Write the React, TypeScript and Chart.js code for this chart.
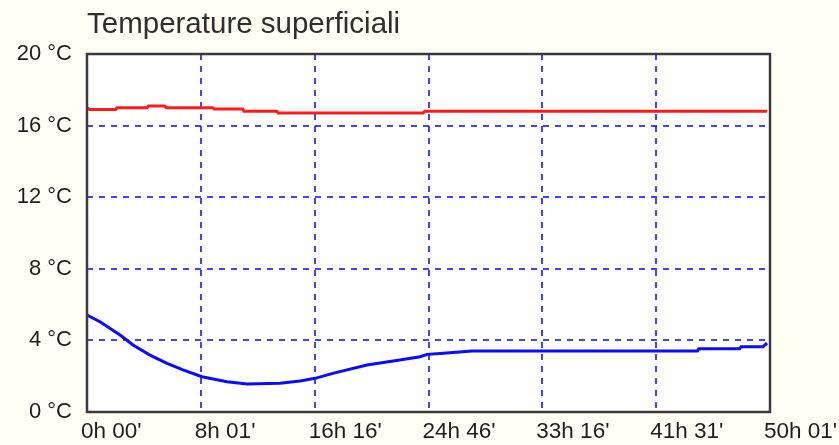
import React, { useEffect, useRef } from "react";
import { Chart, registerables } from "chart.js";

Chart.register(...registerables);

const titleText = "Temperature superficiali";
const xTickLabels = ["0h 00'", "8h 01'", "16h 16'", "24h 46'", "33h 16'", "41h 31'", "50h 01'"];
const xMaxHours = 50 + 1 / 60;
const yMin = 0;
const yMax = 20;
const yStep = 4;

const redTime = [0, 0.2, 2.1, 2.2, 4.4, 4.5, 5.7, 5.8, 9.2, 9.3, 11.4, 11.5, 13.9, 14.0, 24.6, 24.75, 49.8];
const redTemp = [17.0, 16.9, 16.9, 17.0, 17.0, 17.1, 17.1, 17.0, 17.0, 16.93, 16.93, 16.8, 16.8, 16.7, 16.7, 16.8, 16.8];

const blueTime = [0, 0.95, 2.42, 3.37, 4.61, 5.86, 7.03, 8.42, 10.25, 11.72, 14.13, 15.6, 16.7, 18.0, 20.5, 22.9, 24.4, 24.9, 26.1, 28.2, 44.7, 44.8, 47.8, 47.9, 49.5, 49.8];
const blueTemp = [5.42, 5.04, 4.3, 3.74, 3.18, 2.72, 2.35, 1.97, 1.69, 1.56, 1.6, 1.73, 1.88, 2.16, 2.63, 2.91, 3.09, 3.22, 3.28, 3.41, 3.41, 3.54, 3.54, 3.65, 3.65, 3.85];

const BG = "#fffff3";
const FONT = "'Liberation Sans', Arial, sans-serif";

const plotFrame = {
  id: "plotFrame",
  beforeDraw(chart: any) {
    const { ctx, chartArea: a } = chart;
    ctx.save();
    ctx.fillStyle = "#ffffff";
    ctx.fillRect(a.left, a.top, a.right - a.left, a.bottom - a.top);
    ctx.restore();
  },
  afterDraw(chart: any) {
    const { ctx, chartArea: a } = chart;
    ctx.save();
    ctx.strokeStyle = "#3a3a3a";
    ctx.lineWidth = 2.5;
    ctx.strokeRect(a.left, a.top, a.right - a.left, a.bottom - a.top);
    ctx.restore();
  },
};

export default function App() {
  const ref = useRef<HTMLCanvasElement | null>(null);
  useEffect(() => {
    document.body.style.margin = "0";
    document.body.style.background = BG;
    const toPts = (t: number[], v: number[]) => t.map((x, i) => ({ x, y: v[i] }));
    const chart = new Chart(ref.current as HTMLCanvasElement, {
      type: "line",
      data: {
        datasets: [
          {
            label: "Superficie 1",
            data: toPts(redTime, redTemp),
            borderColor: "#ff1a1a",
            borderWidth: 3,
            pointRadius: 0,
            tension: 0,
          },
          {
            label: "Superficie 2",
            data: toPts(blueTime, blueTemp),
            borderColor: "#0a0aff",
            borderWidth: 3,
            pointRadius: 0,
            tension: 0,
          },
        ],
      },
      plugins: [plotFrame],
      options: {
        animation: false,
        responsive: true,
        maintainAspectRatio: false,
        layout: { padding: { left: 0, right: 69, top: 0, bottom: 0 } },
        plugins: {
          legend: { display: false },
          tooltip: { enabled: false },
          title: {
            display: true,
            text: titleText,
            align: "start",
            fullSize: false,
            color: "#2e2e2e",
            font: { family: FONT, size: 29.5, weight: "normal" },
            padding: { top: 7, bottom: 11.6 },
          },
        },
        scales: {
          x: {
            type: "linear",
            min: 0,
            max: xMaxHours,
            afterBuildTicks: (scale: any) => {
              scale.ticks = xTickLabels.map((_, i) => ({ value: (i * xMaxHours) / (xTickLabels.length - 1) }));
            },
            afterFit: (scale: any) => {
              scale.height = 33;
              scale.paddingLeft = 0;
              scale.paddingRight = 0;
            },
            ticks: {
              autoSkip: false,
              maxRotation: 0,
              align: "start",
              labelOffset: -6,
              padding: 6,
              color: "#1e1e1e",
              font: { family: FONT, size: 22.5 },
              callback: (_v: any, i: number) => xTickLabels[i],
            },
            grid: {
              color: "rgba(20,20,255,0.8)",
              lineWidth: 2,
              drawTicks: false,
            },
            border: { display: false, dash: [6, 6] },
          },
          y: {
            min: yMin,
            max: yMax,
            afterFit: (scale: any) => {
              scale.width = 87;
            },
            ticks: {
              stepSize: yStep,
              padding: 15,
              color: "#1e1e1e",
              font: { family: FONT, size: 22 },
              callback: (v: any) => `${v} °C`,
            },
            grid: {
              color: "rgba(20,20,255,0.8)",
              lineWidth: 2,
              drawTicks: false,
            },
            border: { display: false, dash: [6, 6] },
          },
        },
      },
    });
    return () => chart.destroy();
  }, []);
  return (
    <div style={{ width: 839, height: 445, background: BG, position: "relative" }}>
      <canvas ref={ref} />
    </div>
  );
}
